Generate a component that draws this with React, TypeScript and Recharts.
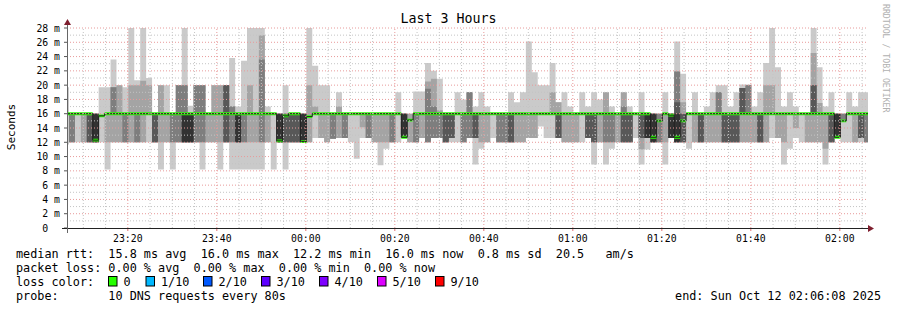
import React from 'react'
import { ComposedChart, Area, Line, XAxis, YAxis, ReferenceLine } from 'recharts'

// x values are seconds after 23:00:00, one sample every 80 s
const FIRST_SAMPLE = 327
const STEP = 80
const X_START = 380
const X_END = 11180

// 10 sorted DNS round trip times (ms) per 80 s step
const smokePings: number[][] = [
  [11.7, 16, 16, 16, 16, 16, 16, 16, 16, 19.7],
  [12, 12, 12, 16, 16, 16, 16, 16, 16, 16],
  [12, 16, 16, 16, 16, 16, 16, 16, 16, 16],
  [12, 12, 16, 16, 16, 16, 16, 16, 16, 16],
  [12, 12, 12, 12, 16, 16, 16, 16, 16, 16],
  [12, 12, 12, 12, 12, 16, 16, 16, 16, 16],
  [12, 16, 16, 16, 16, 16, 16, 16, 16, 19.7],
  [8.2, 12, 16, 16, 16, 16, 16, 16, 16, 19.7],
  [12, 12, 16, 16, 16, 16, 16, 19.7, 19.7, 23.6],
  [12, 12, 16, 16, 16, 16, 16, 16, 20, 20],
  [12, 12, 12, 16, 16, 16, 16, 16, 16, 19.7],
  [12, 12, 16, 16, 16, 16, 16, 16, 20, 28],
  [12, 12, 12, 16, 16, 16, 16, 16, 20, 20.7],
  [12, 12, 16, 16, 16, 16, 16, 16, 20.6, 28],
  [12, 16, 16, 16, 16, 16, 16, 16, 20, 21],
  [12, 12, 12, 12, 16, 16, 16, 16, 16, 16],
  [8.2, 12, 16, 16, 16, 16, 16, 16, 20, 20],
  [12, 12, 16, 16, 16, 16, 16, 16, 16, 20],
  [8.2, 12, 12, 16, 16, 16, 16, 16, 16, 16],
  [12, 12, 12, 16, 16, 16, 16, 20, 20, 20],
  [12, 12, 12, 12, 12, 16, 16, 20, 20, 28],
  [12, 12, 12, 12, 12, 16, 16, 16, 16, 17.1],
  [12, 12, 12, 16, 16, 16, 16, 20, 20, 20],
  [8.2, 12, 12, 16, 16, 16, 16, 20, 20, 20],
  [12, 12, 16, 16, 16, 16, 16, 16, 16, 16],
  [12, 12, 16, 16, 16, 16, 16, 16, 20, 20],
  [8.2, 12, 16, 16, 16, 16, 16, 16, 20, 20],
  [12, 12, 12, 12, 16, 16, 20, 20, 20, 20],
  [8.2, 12, 12, 16, 16, 16, 16, 17, 17, 23.8],
  [8.2, 12, 12, 12, 12, 16, 16, 16, 16, 17],
  [8.2, 12, 12, 16, 16, 16, 16, 16, 16, 23.4],
  [8.2, 12, 16, 16, 16, 16, 16, 16, 20, 28],
  [8.2, 12, 16, 16, 16, 16, 16, 16, 16, 28],
  [8.2, 12, 12, 16, 16, 16, 16, 23.6, 27, 28],
  [12, 12, 16, 16, 16, 16, 16, 16, 16, 17],
  [8.2, 16, 16, 16, 16, 16, 16, 16, 16, 16],
  [12, 12, 12, 12, 12, 16, 16, 16, 16, 16],
  [8.2, 12, 12, 12, 16, 16, 16, 16, 16, 20],
  [12, 12, 12, 12, 16, 16, 16, 16, 16, 16],
  [12, 12, 12, 12, 16, 16, 16, 16, 16, 16],
  [12, 12, 12, 12, 12, 16, 16, 16, 16, 16],
  [12, 12, 16, 16, 16, 16, 16, 16, 20, 28],
  [12.6, 16, 16, 16, 16, 16, 16, 16, 17, 22.7],
  [12.6, 12.6, 16, 16, 16, 16, 16, 16, 16, 20],
  [12, 12, 16, 16, 16, 16, 16, 16, 16, 20],
  [12.5, 12.5, 12.5, 16, 16, 16, 16, 16, 16, 16],
  [12.6, 12.6, 16, 16, 16, 16, 16, 16, 17, 19],
  [12.6, 12.6, 12.6, 16, 16, 16, 16, 16, 16, 16],
  [12, 16, 16, 16, 16, 16, 16, 16, 16, 16],
  [9.7, 16, 16, 16, 16, 16, 16, 16, 16, 16],
  [12.6, 14.1, 16, 16, 16, 16, 16, 16, 16, 16],
  [12.6, 12.6, 12.6, 16, 16, 16, 16, 16, 16, 16],
  [12, 12, 16, 16, 16, 16, 16, 16, 16, 16],
  [8.8, 12, 16, 16, 16, 16, 16, 16, 16, 16],
  [11.1, 12, 16, 16, 16, 16, 16, 16, 16, 16],
  [12, 12, 12, 16, 16, 16, 16, 16, 16, 16],
  [12, 16, 16, 16, 16, 16, 16, 16, 16, 19],
  [12.7, 12.7, 12.7, 12.7, 12.7, 16, 16, 16, 16, 16],
  [12, 12, 16, 16, 16, 16, 16, 16, 16, 16],
  [12, 12, 12, 16, 16, 16, 16, 16, 16, 19.1],
  [12.6, 12.6, 16, 16, 16, 16, 16, 16, 16, 19.1],
  [12, 12, 12, 16, 16, 16, 16, 19.5, 20.5, 23.1],
  [12.6, 12.6, 12.6, 16, 16, 16, 16, 17, 20.9, 22],
  [12.6, 12.6, 12.6, 16, 16, 16, 16, 16, 16.5, 20.9],
  [12, 12, 12, 12, 16, 16, 16, 16, 16, 16],
  [12, 12.6, 12.6, 12.6, 16, 16, 16, 16, 16, 16],
  [12, 16, 16, 16, 16, 16, 16, 16, 16, 19],
  [12, 12, 12, 16, 16, 16, 16, 16, 16, 18],
  [12.6, 12.6, 12.6, 16, 16, 16, 16, 19, 19, 19],
  [8.9, 12.6, 12.6, 12.6, 16, 16, 16, 16, 16, 17],
  [11.1, 12, 16, 16, 16, 16, 16, 16, 16, 19],
  [12, 12, 16, 16, 16, 16, 16, 16, 16, 17],
  [12.6, 16, 16, 16, 16, 16, 16, 16, 16, 16],
  [12, 12, 12, 16, 16, 16, 16, 16, 16, 16],
  [12, 12, 12, 16, 16, 16, 16, 16, 16, 16],
  [12, 12, 12, 12, 16, 16, 16, 16, 16, 19],
  [12, 12, 16, 16, 16, 16, 16, 16, 16, 17.6],
  [12, 12, 16, 16, 16, 16, 16, 16, 16, 19],
  [12.6, 12.6, 16, 16, 16, 16, 16, 16, 16, 26.1],
  [12.6, 12.6, 16, 16, 16, 16, 16, 16, 16, 21.8],
  [14.2, 16, 16, 16, 16, 16, 16, 16, 16, 20],
  [12.6, 16, 16, 16, 16, 16, 16, 16, 16, 20],
  [12.6, 16, 16, 16, 16, 16, 16, 16, 19, 23.1],
  [12.6, 12.6, 12.6, 12.6, 16, 16, 16, 16, 17.6, 17.6],
  [12, 12, 16, 16, 16, 16, 16, 16, 16, 19],
  [12, 12, 16, 16, 16, 16, 16, 16, 16, 17],
  [12, 12, 16, 16, 16, 16, 16, 16, 16, 16],
  [12, 16, 16, 16, 16, 16, 16, 16, 16, 19],
  [12.6, 12.6, 12.6, 12.6, 16, 16, 16, 16, 16, 17],
  [8.9, 12, 12, 12, 16, 16, 16, 16, 16, 19],
  [12, 12, 16, 16, 16, 16, 16, 16, 16, 18],
  [8.9, 12, 12, 16, 16, 16, 16, 16, 19, 19],
  [11.1, 12, 12, 16, 16, 16, 16, 16, 16, 17],
  [12, 12, 16, 16, 16, 16, 16, 16, 16, 16],
  [12, 12, 12, 12, 16, 16, 16, 17, 19, 19],
  [12, 12, 12, 12, 16, 16, 16, 16, 16, 17],
  [12.6, 16, 16, 16, 16, 16, 16, 16, 16, 16],
  [8.9, 11, 12.6, 12.6, 16, 16, 16, 16, 16, 19],
  [11, 12.6, 12.6, 12.6, 12.6, 16, 16, 16, 16, 16],
  [12, 12, 12, 12, 12, 16, 16, 16, 16, 16],
  [12, 12, 12, 16, 16, 16, 16, 16, 16, 16],
  [8.9, 12, 16, 16, 16, 16, 16, 16, 16, 19],
  [12.6, 12.6, 12.6, 12.6, 12.6, 16, 16, 16, 16, 16],
  [12, 12, 12, 12, 12, 16, 17.6, 21.9, 21.9, 26.1],
  [12, 12, 12, 12, 16, 16, 16, 16, 17.6, 21.6],
  [11.1, 16, 16, 16, 16, 16, 16, 16, 16, 16],
  [12, 12, 16, 16, 16, 16, 16, 16, 16, 19],
  [12, 12, 12, 12, 16, 16, 16, 16, 16, 16],
  [12, 12, 16, 16, 16, 16, 16, 16, 16, 17],
  [12, 12, 16, 16, 16, 16, 16, 16, 16, 19],
  [12, 12, 16, 16, 16, 16, 16, 19, 19, 20],
  [12, 12, 12, 12, 16, 16, 16, 16, 16, 20],
  [12, 12, 12, 12, 16, 16, 16, 16, 16, 17],
  [12, 12, 12, 12, 16, 16, 16, 16, 16, 19],
  [12, 12, 16, 16, 16, 16, 19.6, 19.6, 19.6, 20.1],
  [12, 12, 16, 16, 16, 16, 16, 20, 20, 20.1],
  [12, 12, 16, 16, 16, 16, 16, 16, 16, 17],
  [12, 12, 12, 12, 16, 16, 16, 16, 16, 19],
  [12, 12, 16, 16, 16, 16, 16, 16, 20, 23.1],
  [12.6, 16, 16, 16, 16, 16, 16, 16, 20, 28],
  [12.6, 12.6, 16, 16, 16, 16, 16, 16, 16, 22.5],
  [8.9, 12, 16, 16, 16, 16, 16, 16, 16, 17],
  [11.1, 16, 16, 16, 16, 16, 16, 16, 16, 19],
  [12.6, 14, 16, 16, 16, 16, 16, 16, 16, 17],
  [12, 16, 16, 16, 16, 16, 16, 16, 16, 16],
  [12, 12, 16, 16, 16, 16, 16, 16, 16, 16],
  [12, 12, 16, 16, 16, 16, 20, 20, 24.5, 28],
  [12, 12, 16, 16, 16, 16, 16, 16, 17.5, 22.5],
  [8.9, 11.1, 16, 16, 16, 16, 16, 16, 16, 17],
  [12, 12, 12, 12, 16, 16, 16, 16, 16, 19],
  [12.7, 12.7, 12.7, 12.7, 12.7, 16, 16, 16, 16, 16],
  [12, 15, 15, 16, 16, 16, 16, 16, 16, 16],
  [12, 16, 16, 16, 16, 16, 16, 16, 16, 19],
  [12, 12, 16, 16, 16, 16, 16, 16, 16, 17],
  [12, 12.6, 12.6, 12.6, 16, 16, 16, 16, 16, 19],
  [12, 12, 12, 16, 16, 16, 16, 16, 16, 19],
]

// median rtt (ms) per step, all with 0 loss
const medianRtt: number[] = [
  16, 16, 16, 16, 16, 12.3, 15.7, 16, 16, 16,
  16, 16, 16, 16, 16, 16, 16, 16, 16, 16,
  16, 16, 16, 16, 16, 16, 16, 16, 16, 16,
  16, 16, 16, 16, 16, 16, 12.2, 15.7, 16, 16,
  12.1, 15.6, 16, 16, 16, 16, 16, 16, 16, 16,
  16, 16, 16, 16, 16, 16, 16, 12.7, 15.1, 16,
  16, 16, 16, 16, 16, 16, 16, 16, 16, 16,
  16, 16, 16, 16, 16, 16, 16, 16, 16, 16,
  16, 16, 16, 16, 16, 16, 16, 16, 16, 16,
  16, 16, 16, 16, 16, 16, 16, 16, 16, 12.7,
  15.0, 16, 15.8, 12.7, 15.0, 16, 16, 16, 16, 16,
  16, 16, 16, 16, 16, 16, 16, 16, 16, 16,
  16, 16, 16, 16, 16, 16, 16, 16, 16, 16,
  12.7, 15.0, 16, 16, 16, 16,
]

const timeTicks = [1200, 2400, 3600, 4800, 6000, 7200, 8400, 9600, 10800]
const timeLabels = ['23:20', '23:40', '00:00', '00:20', '00:40', '01:00', '01:20', '01:40', '02:00']
const yTicks = [0, 2, 4, 6, 8, 10, 12, 14, 16, 18, 20, 22, 24, 26, 28]

const lossColors = ['#26ff00', '#00b8ff', '#0059ff', '#5e00ff', '#7e00ff', '#dd00ff', '#ff0000']
const lossLabels = ['0', '1/10', '2/10', '3/10', '4/10', '5/10', '9/10']
const lossSwatchX = [108.5, 146, 203.5, 261.5, 319.5, 377.5, 435.5]

const SMOKE = ['#cacaca', '#a4a4a4', '#7e7e7e', '#585858', '#323232']
const FONT = '"DejaVu Sans Mono", monospace'
const MAJOR = '#e89a9a'
const MINOR = '#c4c4c4'

const rows = smokePings.map((p, i) => ({
  t: FIRST_SAMPLE + i * STEP,
  s1: [p[0], p[9]],
  s2: [p[1], p[8]],
  s3: [p[2], p[7]],
  s4: [p[3], p[6]],
  s5: [p[4], p[5]],
  median: medianRtt[i],
  medianBand: [medianRtt[i] - 0.2, medianRtt[i] + 0.2],
}))
rows.push({ ...rows[rows.length - 1], t: FIRST_SAMPLE + rows.length * STEP })

const minorX: number[] = []
for (let t = 600; t < X_END; t += 300) if (!timeTicks.includes(t)) minorX.push(t)
const majorY = yTicks.filter(v => v > 0)
const minorY = majorY.map(v => v - 1)

const XTick = ({ x, y, payload }: any) => (
  <text x={x} y={y} dy={11} textAnchor="middle" fontFamily={FONT} fontSize={9.8} fill="#000">
    {timeLabels[timeTicks.indexOf(payload.value)]}
  </text>
)

const YTick = ({ x, y, payload }: any) => (
  <text x={x} y={y} dy={3.5} textAnchor="end" fontFamily={FONT} fontSize={9.8} fill="#000">
    {payload.value === 0 ? '0\u00a0\u00a0' : `${payload.value} m`}
  </text>
)

export default function App() {
  const textStyle = { whiteSpace: 'pre' as const }
  return (
    <div style={{ position: 'absolute', left: 0, top: 0, width: 897, height: 310, background: '#fff' }}>
      <ComposedChart width={897} height={310} data={rows} margin={{ top: 28, right: 29, bottom: 62, left: 7 }}>
        <XAxis dataKey="t" type="number" domain={[X_START, X_END]} allowDataOverflow ticks={timeTicks} interval={0}
          axisLine={false} tickLine={{ stroke: '#e07070' }} tickSize={3} tickMargin={0} height={20} tick={<XTick />} />
        <YAxis type="number" domain={[0, 28]} allowDataOverflow ticks={yTicks} interval={0} width={60}
          axisLine={false} tickLine={{ stroke: '#555' }} tickSize={3} tickMargin={4} tick={<YTick />} />
        {SMOKE.map((c, i) => (
          <Area key={c} dataKey={`s${i + 1}`} type="stepAfter" fill={c} fillOpacity={1} stroke="none"
            dot={false} activeDot={false} isAnimationActive={false} />
        ))}
        <Line dataKey="median" type="stepAfter" stroke="#202020" strokeWidth={1} dot={false} activeDot={false} isAnimationActive={false} />
        <Area dataKey="medianBand" type="stepAfter" fill={lossColors[0]} fillOpacity={1} stroke="none"
          dot={false} activeDot={false} isAnimationActive={false} />
        {minorY.map(v => <ReferenceLine key={`my${v}`} y={v} stroke={MINOR} strokeDasharray="1 2" />)}
        {majorY.map(v => <ReferenceLine key={`My${v}`} y={v} stroke={MAJOR} strokeDasharray="1 2" />)}
        {minorX.map(t => <ReferenceLine key={`mx${t}`} x={t} stroke={MINOR} strokeDasharray="1 2" />)}
        {timeTicks.map(t => <ReferenceLine key={`Mx${t}`} x={t} stroke={MAJOR} strokeDasharray="1 2" />)}
      </ComposedChart>
      <svg width={897} height={310} style={{ position: 'absolute', left: 0, top: 0, pointerEvents: 'none' }}
        fontFamily={FONT}>
        <line x1={62} y1={228.5} x2={870} y2={228.5} stroke="#222" />
        <line x1={67.5} y1={233} x2={67.5} y2={24} stroke="#666" />
        <polygon points="868,225 868,232 874,228.5" fill="#7f1f2f" />
        <polygon points="64,25 71,25 67.5,19" fill="#7f1f2f" />
        <text x={448.5} y={23} textAnchor="middle" fontSize={13.3}>Last 3 Hours</text>
        <text transform="translate(15,127) rotate(-90)" textAnchor="middle" fontSize={11}>Seconds</text>
        <text transform="translate(883,4) rotate(90)" fontSize={8.2} fill="#b0b0b0">RRDTOOL / TOBI OETIKER</text>
        <text x={16} y={258} fontSize={11.8} style={textStyle}>
          {'median rtt:  15.8 ms avg  16.0 ms max  12.2 ms min  16.0 ms now  0.8 ms sd  20.5   am/s'}
        </text>
        <text x={16} y={272} fontSize={11.8} style={textStyle}>
          {'packet loss: 0.00 % avg  0.00 % max  0.00 % min  0.00 % now'}
        </text>
        <text x={16} y={286} fontSize={11.8} style={textStyle}>{'loss color:'}</text>
        {lossColors.map((c, i) => (
          <g key={c}>
            <rect x={lossSwatchX[i]} y={276.5} width={8.5} height={9.5} fill={c} stroke="#000" />
            <text x={lossSwatchX[i] + 15} y={286} fontSize={11.8}>{lossLabels[i]}</text>
          </g>
        ))}
        <text x={16} y={300} fontSize={11.8} style={textStyle}>{'probe:       10 DNS requests every 80s'}</text>
        <text x={881} y={300} fontSize={11.8} textAnchor="end">end: Sun Oct 12 02:06:08 2025</text>
      </svg>
    </div>
  )
}
